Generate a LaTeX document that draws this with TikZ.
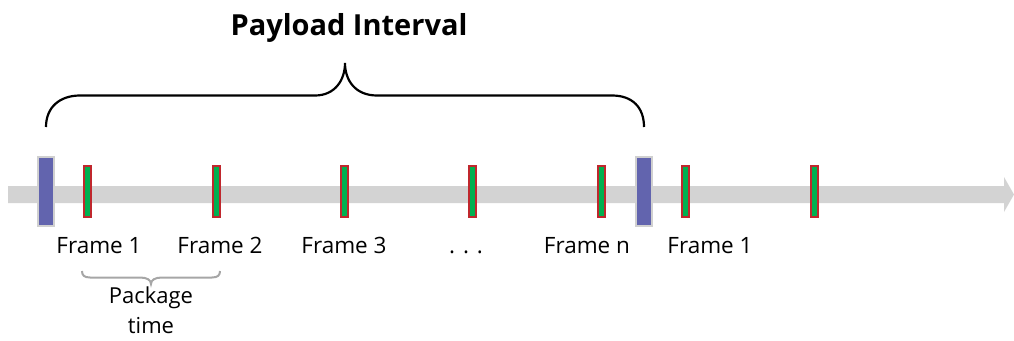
\documentclass[tikz,border=0pt]{standalone}
\usepackage{fontspec}
\setmainfont{Open Sans}
\definecolor{barg}{HTML}{D3D3D3}
\definecolor{blu}{HTML}{6264AE}
\definecolor{blubd}{HTML}{D0D0D0}
\definecolor{grn}{HTML}{00B050}
\definecolor{redbd}{HTML}{C0272D}
\definecolor{brg}{HTML}{A6A6A6}
\tikzset{
  frm/.style={draw=redbd, fill=grn, line width=2pt, minimum width=7pt, minimum height=51pt, inner sep=0pt},
  mark1/.style={draw=blubd, fill=blu, line width=2pt, minimum width=16pt, minimum height=69pt, inner sep=0pt},
  lbl/.style={font=\fontsize{22.5}{26}\selectfont, anchor=base, inner sep=0pt},
}
\begin{document}
\begin{tikzpicture}[x=1pt,y=-1pt]
\useasboundingbox (0,0) rectangle (1014,340);
% timeline
\coordinate (ts) at (8,194.5);
\coordinate (te) at (1014,194.5);
\fill[barg] (ts) ++(0,-8.5) -- (1004,186) -- (1004,177) -- (te) -- (1004,212) -- (1004,203) -- (8,203) -- cycle;
% blue markers
\node[mark1] (b1) at (46,191.5) {};
\node[mark1] (b2) at (644,191.5) {};
% frames
\foreach \n/\x in {f1/87.5,f2/216,f3/344,f4/472,fn/601,g1/685.5,g2/814}
  \node[frm] (\n) at (\x,191.5) {};
% labels
\node[lbl] (l1) at (99,253) {Frame 1};
\node[lbl] (l2) at (220,253) {Frame 2};
\node[lbl] (l3) at (344,253) {Frame 3};
\node[lbl] (l4) at (466,253) {. . .};
\node[lbl] (ln) at (587,253) {Frame n};
\node[lbl] (lg) at (710,253) {Frame 1};
% title
\node[font=\fontsize{29}{33}\selectfont\bfseries, anchor=base, inner sep=0pt] (title) at (349,35) {Payload Interval};
% big brace
\coordinate (bl) at (46,127);
\coordinate (br) at (644,127);
\coordinate (bt) at (345,63);
\draw[line width=2.2pt] (bl) .. controls (46,107) and (60,95.5) .. (80,95.5) -- (315,95.5)
  .. controls (335,95.5) and (345,80) .. (bt)
  .. controls (345,80) and (355,95.5) .. (377,95.5) -- (612,95.5)
  .. controls (632,95.5) and (644,107) .. (br);
% small brace
\coordinate (sl) at (82,271);
\coordinate (sr) at (220,271);
\coordinate (st) at (151,284);
\draw[brg, line width=2pt] (sl) .. controls (82,275) and (84,277.5) .. (90,277.5) -- (140,277.5)
  .. controls (147,277.5) and (151,280) .. (st)
  .. controls (151,280) and (155,277.5) .. (162,277.5) -- (212,277.5)
  .. controls (218,277.5) and (220,275) .. (sr);
\node[lbl, align=center, anchor=north, font=\fontsize{22}{30}\selectfont] (pk) at (151,287) {Package\\time};
\end{tikzpicture}
\end{document}
